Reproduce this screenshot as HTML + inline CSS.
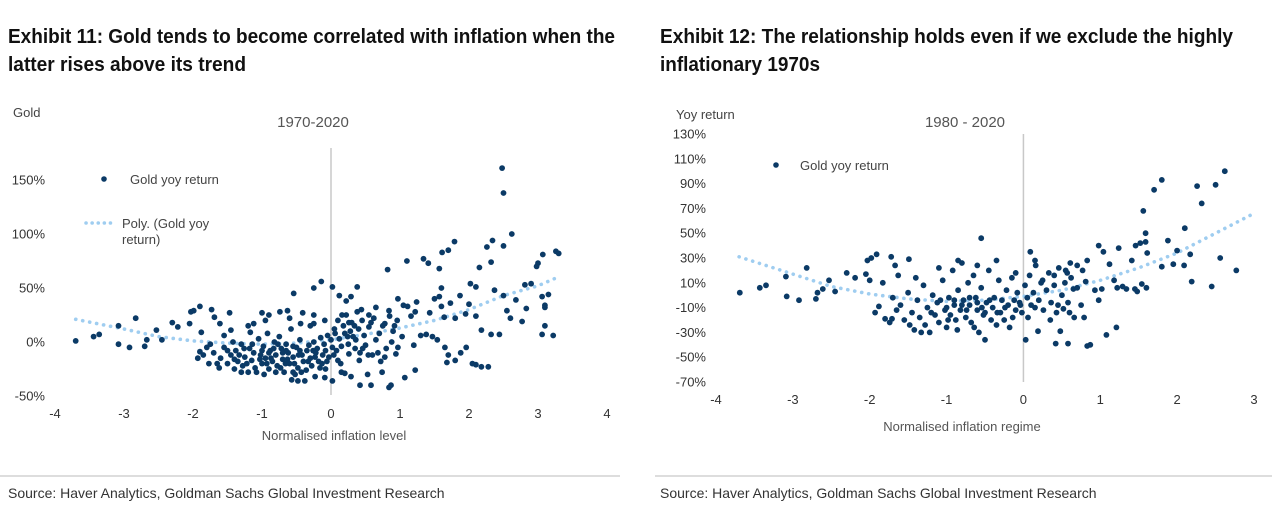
<!DOCTYPE html>
<html><head><meta charset="utf-8">
<style>
html,body{margin:0;padding:0;background:#fff;}
svg{display:block;font-family:"Liberation Sans",Arial,sans-serif;}
</style></head>
<body>
<svg id="root" width="1280" height="510" viewBox="0 0 1280 510">
  <g font-weight="bold" font-size="20" fill="#111">
    <text x="8" y="43" textLength="607" lengthAdjust="spacingAndGlyphs">Exhibit 11: Gold tends to become correlated with inflation when the</text>
    <text x="8" y="71" textLength="238" lengthAdjust="spacingAndGlyphs">latter rises above its trend</text>
  </g>
  <g font-weight="bold" font-size="20" fill="#111">
    <text x="660" y="43" textLength="573" lengthAdjust="spacingAndGlyphs">Exhibit 12: The relationship holds even if we exclude the highly</text>
    <text x="660" y="71" textLength="160" lengthAdjust="spacingAndGlyphs">inflationary 1970s</text>
  </g>
  <line x1="0" y1="476" x2="620" y2="476" stroke="#bbb" stroke-width="1"/>
  <line x1="655" y1="476" x2="1272" y2="476" stroke="#bbb" stroke-width="1"/>
  <text x="8" y="498" font-size="14" fill="#333">Source: Haver Analytics, Goldman Sachs Global Investment Research</text>
  <text x="660" y="498" font-size="14" fill="#333">Source: Haver Analytics, Goldman Sachs Global Investment Research</text>

  <text x="13" y="117" font-size="13" fill="#444">Gold</text>
  <text x="313" y="127" font-size="15" fill="#555" text-anchor="middle">1970-2020</text>
  <text x="334" y="440" font-size="13" fill="#555" text-anchor="middle">Normalised inflation level</text>
  <g>
    <circle cx="104" cy="179" r="2.8" fill="#0b3a66"/>
    <text x="130" y="184" font-size="13" fill="#444">Gold yoy return</text>
    <line x1="86" y1="223" x2="116" y2="223" stroke="#9fcdf0" stroke-width="3.5" stroke-linecap="round" stroke-dasharray="0.1 6"/>
    <text x="122" y="228" font-size="13" fill="#444">Poly. (Gold yoy</text>
    <text x="122" y="244" font-size="13" fill="#444">return)</text>
  </g>
  <text x="676" y="119" font-size="13" fill="#444">Yoy return</text>
  <text x="965" y="127" font-size="15" fill="#555" text-anchor="middle">1980 - 2020</text>
  <text x="962" y="431" font-size="13" fill="#555" text-anchor="middle">Normalised inflation regime</text>
  <g>
    <circle cx="776" cy="165" r="2.8" fill="#0b3a66"/>
    <text x="800" y="170" font-size="13" fill="#444">Gold yoy return</text>
  </g>
  <g id="left-chart"></g>
  <g id="right-chart"></g>
</svg>
<script>
// ===== Exhibit 11 data =====
const leftXTicks = [-4,-3,-2,-1,0,1,2,3,4];
const leftYTicks = [150,100,50,0,-50];
const leftTrendX = [-3.7,-3,-2.5,-2,-1.5,-1,-0.5,0,0.5,1,1.5,2,2.5,3,3.25];
const leftTrendY = [21,12,5,1,-1,-2,-1,2,7,13,20,30,43,52,59];
const leftPoints = [
[2.48,161],[2.5,138],[2.62,100],[1.79,93],[1.7,85],[1.61,83],[2.34,94],[2.26,88],[2.5,89],[2.32,74],[2.15,69],[1.57,68],[1.34,77],[1.41,73],[1.1,75],[0.82,67],[3.26,84],[3.3,82],[3.07,81],[3.0,73],[2.98,70],[2.81,53],[2.9,54],[3.15,44],[3.06,42],[3.1,34],[3.1,32],[3.1,15],[3.06,7],[3.22,6],[2.77,19],[2.83,31],[2.68,39],[2.55,29],[2.6,22],[2.37,48],[2.5,43],[2.32,7],[2.44,7],[2.18,11],[2.1,-21],[2.18,-23],[2.28,-23],[2.05,-20],[2.02,54],[2.1,51],[2.0,35],[2.1,24],[1.95,26],[1.87,43],[1.73,36],[1.8,22],[1.64,23],[1.6,50],[1.57,42],[1.5,40],[1.6,33],[1.43,27],[1.47,5],[1.54,2],[1.65,-5],[1.7,-12],[1.8,-17],[1.88,-10],[1.96,-5],[1.68,-19],[1.22,-26],[1.07,-33],[0.84,-42],[0.87,-40],[0.74,-28],[0.58,-40],[0.42,-40],[0.53,-30],[0.29,-32],[0.2,-29],[0.15,-28],[0.02,-36],[-0.09,-33],[-0.23,-32],[-0.08,-25],[0.1,-17],[0.26,-11],[0.41,-17],[0.38,51],[0.29,42],[0.22,38],[0.12,43],[0.02,51],[-0.14,56],[-0.25,50],[-0.54,45],[0.97,40],[1.05,34],[1.11,33],[1.24,37],[1.22,28],[1.16,24],[0.96,20],[0.84,29],[0.65,32],[0.55,25],[0.78,17],[0.92,15],[1.03,5],[0.97,-5],[0.94,-11],[1.2,-3],[1.3,6],[1.38,7],
[-3.7,1],[-3.44,5],[-3.36,7],[-3.08,15],[-3.08,-2],[-2.92,-5],[-2.83,22],[-2.7,-4],[-2.67,2],[-2.53,11],[-2.45,2],[-2.3,18],[-2.22,14],[-2.05,17],[-2.03,28],[-1.99,29],[-1.9,33],[-1.88,9],[-1.93,-15],[-1.9,-9],[-1.77,-20],[-1.73,30],[-1.69,23],[-1.61,17],[-1.47,27],[-1.45,11],[-1.55,6],[-1.8,-5],[-1.0,27],[-0.9,25],[-0.74,28],[-0.63,29],[-0.41,27],[-0.25,25],[-0.09,20],[-0.25,17],[-0.44,17],[-1.12,17],[-1.17,9],[-0.55,-28],[-0.48,-36],
[-1.7,-10],[-1.6,-15],[-1.55,-5],[-1.5,-20],[-1.45,-12],[-1.4,-25],[-1.38,-8],[-1.35,-18],[-1.3,-2],[-1.28,-22],[-1.25,-14],[-1.2,-28],[-1.18,-6],[-1.15,-17],[-1.12,-10],[-1.1,-24],[-1.05,3],[-1.02,-12],[-1.0,-20],[-0.98,-4],[-0.95,-15],[-0.92,8],[-0.9,-25],[-0.88,-8],[-0.85,-18],[-0.82,0],[-0.8,-12],[-0.78,-22],[-0.75,5],[-0.72,-6],[-0.7,-16],[-0.68,-28],[-0.65,-2],[-0.62,-10],[-0.6,-20],[-0.58,12],[-0.55,-14],[-0.52,-30],[-0.5,-5],[-0.48,-24],[-0.45,2],[-0.42,-12],[-0.4,-18],[-0.38,-36],[-0.35,-8],[-0.32,-3],[-0.3,-15],[-0.28,-22],[-0.25,0],[-0.22,-10],[-0.2,-6],[-0.18,-18],[-0.15,4],[-0.12,-12],[-0.1,-2],[-0.08,-8],[-0.05,6],[-0.03,-14],[0,2],[0.02,-5],[0.05,12],[0.08,-8],[0.1,20],[0.12,3],[0.15,-4],[0.18,15],[0.2,8],[0.22,25],[0.25,-2],[0.28,10],[0.3,18],[0.32,5],[0.35,-6],[0.38,28],[0.4,12],[0.42,-10],[0.45,20],[0.48,6],[0.5,-3],[0.55,14],[0.6,-12],[0.62,22],[0.65,2],[0.7,8],[0.72,-18],[0.75,15],[0.8,-6],[0.85,24],[0.88,0],[0.9,10],
[-1.65,-20],[-1.5,-8],[-1.42,0],[-1.33,-12],[-1.22,-20],[-1.08,-28],[-0.97,-30],[-0.87,-15],[-0.77,-2],[-0.66,-20],[-0.57,-35],[-0.47,-12],[-0.36,-26],[-0.26,-8],[-0.16,-24],[-0.06,-18],[0.04,-12],[0.14,-20],[0.24,5],[0.34,15],[0.44,30],[0.54,-12],[-1.75,-2],[-1.85,-12],[-1.2,15],[-0.95,20],[-0.6,22],[-0.3,15],[-0.8,-28],[-1.3,-28],[-0.65,-8],[-0.55,-4],[-0.45,-8],[-0.7,-10],[-0.9,-10],[-1.0,-8],
[-1.62,-24],[-1.4,-16],[-1.26,-6],[-1.14,-2],[-1.03,-16],[-0.93,-20],[-0.83,-6],[-0.73,-24],[-0.63,-16],[-0.53,-20],[-0.43,-28],[-0.33,-18],[-0.23,-14],[-0.13,-20],[0.06,8],[0.16,25],[0.26,18],[0.36,2],[0.46,-6],[0.58,18],[0.68,-10],[0.78,-14]
];
// ===== Exhibit 12 data =====
const rightXTicks = [-4,-3,-2,-1,0,1,2,3];
const rightYTicks = [130,110,90,70,50,30,10,-10,-30,-50,-70];
const rightTrendX = [-3.7,-3,-2.5,-2,-1.5,-1,-0.5,0,0.5,1,1.5,2,2.5,3];
const rightTrendY = [31,17,7,1,-3,-5,-4,-1,4,12,22,34,50,66];
const rightPoints = [
[-3.69,2],[-3.43,6],[-3.35,8],[-3.09,15],[-3.08,-1],[-2.92,-4],[-2.82,22],[-2.7,-3],[-2.68,2],[-2.61,5],[-2.53,12],[-2.45,3],[-2.3,18],[-2.19,14],[-2.05,17],[-2.03,28],[-1.98,30],[-1.91,33],[-2.0,12],[-1.83,10],[-1.93,-14],[-1.88,-9],[-1.8,-19],[-1.74,-22],[-1.71,-19],[-1.72,31],[-1.67,24],[-1.63,16],[-1.49,29],[-0.55,46],[0.09,35],[0.03,-36],[0.19,-29],[0.42,-39],[0.58,-39],[0.48,-29],[0.83,-41],[0.87,-40],[0.79,-18],[1.08,-32],[1.21,-26],[0.98,40],[1.04,35],[1.24,38],[1.12,25],[1.18,12],[1.22,6],[1.29,7],[1.34,5],[1.45,5],[1.48,3],[1.54,9],[1.6,6],[1.41,28],[1.46,40],[1.52,42],[1.59,43],[1.59,50],[1.56,68],[1.61,34],[1.7,85],[1.8,93],[1.88,44],[1.8,23],[1.95,25],[2.0,36],[2.1,54],[2.09,24],[2.17,33],[2.19,11],[2.26,88],[2.32,74],[2.45,7],[2.5,89],[2.56,30],[2.62,100],[2.77,20],[0.81,11],[0.93,4],[0.98,-4],[1.02,5],[0.77,20],[0.83,28],[0.7,24],[0.61,26],[0.57,18],[0.65,5],[0.6,-14],[0.52,-11],
[-1.6,-8],[-1.55,-20],[-1.5,2],[-1.45,-14],[-1.42,-28],[-1.38,-4],[-1.35,-18],[-1.3,8],[-1.28,-24],[-1.25,-10],[-1.22,-30],[-1.18,0],[-1.15,-16],[-1.12,-6],[-1.1,-22],[-1.05,12],[-1.02,-12],[-1.0,-26],[-0.97,-2],[-0.95,-16],[-0.92,20],[-0.9,-8],[-0.88,-20],[-0.85,4],[-0.82,-12],[-0.8,26],[-0.78,-4],[-0.75,-18],[-0.72,10],[-0.7,-8],[-0.68,-22],[-0.65,16],[-0.62,-2],[-0.6,-12],[-0.58,-30],[-0.55,6],[-0.52,-16],[-0.5,-36],[-0.48,-6],[-0.45,20],[-0.42,-20],[-0.4,-10],[-0.38,-2],[-0.35,-24],[-0.32,12],[-0.3,-14],[-0.28,-4],[-0.25,-20],[-0.22,4],[-0.2,-8],[-0.18,-26],[-0.15,14],[-0.12,-4],[-0.1,-12],[-0.08,2],[-0.05,-6],[-0.02,-14],[0.02,8],[0.05,-2],[0.08,16],[0.1,-8],[0.13,2],[0.16,24],[0.2,-4],[0.23,10],[0.26,-12],[0.3,4],[0.33,18],[0.36,-6],[0.4,8],[0.43,-14],[0.46,22],[0.5,0],[0.54,10],[0.58,-6],[0.62,14],[0.66,-18],[0.7,6],[0.75,-8],
[-1.7,-2],[-1.65,-12],[-1.48,-24],[-1.33,-30],[-1.2,-14],[-1.08,-4],[-0.98,-20],[-0.86,-28],[-0.74,-12],[-0.64,-26],[-0.54,-10],[-0.44,-4],[-0.34,-14],[-0.24,-10],[-0.14,-18],[-0.04,-8],[0.06,-18],[0.15,-10],[0.25,12],[0.35,-20],[0.45,-8],[0.55,20],[-1.4,14],[-1.1,22],[-0.85,28],[-0.6,24],[-0.35,28],[-0.1,18],[0.15,28],[0.4,16],[-0.9,-4],[-0.7,-2],[-0.6,-6],[-0.5,-14],[-0.8,-8],[-1.0,-10]
];

const NS = 'http://www.w3.org/2000/svg';
function mk(tag, attrs, parent){ const e=document.createElementNS(NS,tag); for(const k in attrs) e.setAttribute(k,attrs[k]); parent.appendChild(e); return e; }

function drawChart(g, cfg, xTicks, yTicks, pts, tx, ty){
  const sx = v => cfg.x0 + (v - cfg.xmin) / (cfg.xmax - cfg.xmin) * (cfg.x1 - cfg.x0);
  const sy = v => cfg.y0 + (cfg.ymax - v) / (cfg.ymax - cfg.ymin) * (cfg.y1 - cfg.y0);
  const zl = mk('line',{x1:sx(0),x2:sx(0),y1:cfg.zTop,y2:cfg.zBot,stroke:'#c8c8c8','stroke-width':1.5},g);
  
  
  xTicks.forEach(t=>{
    const e=mk('text',{x:sx(t),y:cfg.xLabY,'font-size':13,fill:'#333','text-anchor':'middle'},g);
    e.textContent = t;
    
    
  });
  yTicks.forEach(t=>{
    const e=mk('text',{x:cfg.yLabX,y:sy(t)+4.5,'font-size':13,fill:'#333','text-anchor':'end'},g);
    e.textContent = t + '%';
    
    
  });
  let d='';
  tx.forEach((v,i)=>{ d += (i?'L':'M') + sx(v).toFixed(1) + ' ' + sy(ty[i]).toFixed(1); });
  const tl = mk('path',{d:d,fill:'none',stroke:'#9fcdf0','stroke-width':3.6,'stroke-linecap':'round','stroke-dasharray':'0.1 7'},g);
  
  
  pts.forEach(p=>{
    const c = mk('circle',{cx:sx(p[0]).toFixed(1),cy:sy(p[1]).toFixed(1),r:2.9,fill:'#0b3a66'},g);
    
    
  });
}

drawChart(document.getElementById('left-chart'),
  {xmin:-4,xmax:4,x0:55,x1:607,ymin:-50,ymax:150,y0:180,y1:396,zTop:148,zBot:395,xLabY:418,yLabX:45},
  leftXTicks,leftYTicks,leftPoints,leftTrendX,leftTrendY);
drawChart(document.getElementById('right-chart'),
  {xmin:-4,xmax:3,x0:716,x1:1254,ymin:-70,ymax:130,y0:134,y1:382,zTop:134,zBot:382,xLabY:404,yLabX:706},
  rightXTicks,rightYTicks,rightPoints,rightTrendX,rightTrendY);
</script>
</body></html>
